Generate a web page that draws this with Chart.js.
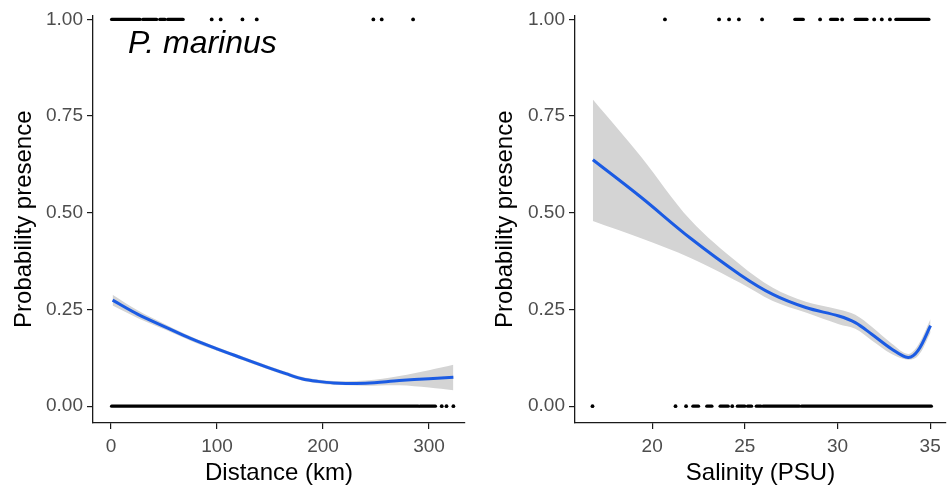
<!DOCTYPE html>
<html lang="en">
<head>
    <meta charset="UTF-8">
    <title>P. marinus presence</title>
    <script src="https://cdn.jsdelivr.net/npm/chart.js"></script>
    <style>
        * {
            margin: 0;
            padding: 0;
            box-sizing: border-box;
        }
        body {
            background-color: #fff;
            width: 950px;
            height: 494px;
            position: relative;
            overflow: hidden;
        }
        .panel {
            position: absolute;
            top: 0;
            width: 475px;
            height: 494px;
        }
        #left { left: 0; }
        #right { left: 475px; }
    </style>
</head>
<body>
    <div class="panel" id="left"><canvas id="distance-chart" width="475" height="494"></canvas></div>
    <div class="panel" id="right"><canvas id="salinity-chart" width="475" height="494"></canvas></div>
    <script>
        // shared y ticks
        var yTicks = [0, 0.25, 0.5, 0.75, 1];

        // distance panel
        var distTicks = [0, 100, 200, 300];
        var distX   = [1.5, 25, 52.5, 75, 100, 125, 147, 165, 180, 195, 210, 240, 272, 300, 323];
        var distFit = [0.274, 0.238, 0.203, 0.175, 0.148, 0.123, 0.101, 0.084, 0.071, 0.064, 0.060, 0.059, 0.066, 0.071, 0.075];
        var distLo  = [0.260, 0.228, 0.196, 0.169, 0.143, 0.118, 0.096, 0.079, 0.066, 0.059, 0.055, 0.053, 0.054, 0.048, 0.041];
        var distHi  = [0.288, 0.248, 0.210, 0.181, 0.153, 0.128, 0.106, 0.089, 0.076, 0.069, 0.065, 0.066, 0.078, 0.093, 0.107];
        // observed presences (1) and absences (0): dense runs and single points
        var distPresRuns = [[0.6, 27.4], [30, 43], [46, 51], [53.5, 68]];
        var distPresDots = [95, 103.5, 124, 137.5, 247.5, 255.4, 285];
        var distAbsRuns  = [[0.6, 290], [291.5, 306]];
        var distAbsDots  = [312, 316.5, 323];

        // salinity panel
        var salTicks = [20, 25, 30, 35];
        var salX   = [16.8, 19.4, 22.07, 24.74, 26.51, 28.29, 30.07, 30.96, 31.85, 32.92, 33.81, 34.35, 35.02];
        var salFit = [0.637, 0.540, 0.434, 0.340, 0.289, 0.255, 0.233, 0.216, 0.186, 0.148, 0.126, 0.144, 0.208];
        var salLo  = [0.479, 0.434, 0.383, 0.319, 0.272, 0.242, 0.212, 0.200, 0.170, 0.135, 0.120, 0.130, 0.190];
        var salHi  = [0.793, 0.645, 0.481, 0.366, 0.306, 0.270, 0.250, 0.236, 0.205, 0.162, 0.135, 0.158, 0.225];
        var salPresRuns = [[27.7, 28.15], [29.63, 30.0], [30.96, 31.59], [33.15, 34.93]];
        var salPresDots = [20.69, 23.61, 24.15, 24.68, 25.93, 29.06, 30.25, 31.98, 32.39, 32.83];
        var salAbsRuns  = [[22.2, 22.5], [22.95, 23.22], [23.67, 24.1], [24.6, 25.0], [25.15, 25.36], [25.62, 25.87], [25.98, 27.94], [28.06, 35.06]];
        var salAbsDots  = [16.78, 21.26, 21.83, 24.32];

        Chart.defaults.font.family = "'Liberation Sans', Arial, sans-serif";

        function pts(xs, ys) {
            return xs.map(function (x, i) { return { x: x, y: ys[i] }; });
        }

        function rugSets(runs, dots, y) {
            var sets = runs.map(function (r) {
                return {
                    data: [{ x: r[0], y: y }, { x: r[1], y: y }],
                    showLine: true, borderColor: '#000', borderWidth: 3.4,
                    borderCapStyle: 'round', pointRadius: 0
                };
            });
            sets.push({
                data: dots.map(function (x) { return { x: x, y: y }; }),
                showLine: false, pointRadius: 1.9, pointBackgroundColor: '#000',
                pointBorderWidth: 0
            });
            return sets;
        }

        function buildChart(id, o) {
            var datasets = [{
                data: pts(o.x, o.fit),
                showLine: true, borderColor: '#1b5be3', borderWidth: 3,
                tension: 0.35, pointRadius: 0
            }];
            datasets = datasets
                .concat(rugSets(o.presRuns, o.presDots, 1))
                .concat(rugSets(o.absRuns, o.absDots, 0));
            datasets.push({
                data: pts(o.x, o.lo),
                showLine: true, borderWidth: 0, pointRadius: 0, tension: 0.35
            });
            datasets.push({
                data: pts(o.x, o.hi),
                showLine: true, borderWidth: 0, pointRadius: 0, tension: 0.35,
                fill: '-1', backgroundColor: '#d4d4d4'
            });

            return new Chart(document.getElementById(id), {
                type: 'scatter',
                data: { datasets: datasets },
                options: {
                    responsive: false,
                    animation: false,
                    devicePixelRatio: 1,
                    layout: { padding: { top: 12, right: o.padRight, left: 0, bottom: 0 } },
                    plugins: { legend: { display: false }, tooltip: { enabled: false } },
                    scales: {
                        x: {
                            type: 'linear', min: o.xMin, max: o.xMax,
                            afterBuildTicks: function (s) { s.ticks = o.xTicks.map(function (v) { return { value: v }; }); },
                            afterFit: function (s) { s.height = 71; },
                            border: { display: true, color: '#1a1a1a', width: 1.3 },
                            grid: { drawOnChartArea: false, drawTicks: true, tickLength: 6, color: '#1a1a1a', lineWidth: 1.2 },
                            ticks: { color: '#4d4d4d', font: { size: 19 }, padding: 6, maxRotation: 0, autoSkip: false },
                            title: { display: true, text: o.xTitle, color: '#000', font: { size: 24 }, padding: { top: 0, bottom: 6 } }
                        },
                        y: {
                            type: 'linear', min: -0.0436, max: 1.0103,
                            afterBuildTicks: function (s) { s.ticks = yTicks.map(function (v) { return { value: v }; }); },
                            afterFit: function (s) { s.width = o.yWidth; },
                            border: { display: true, color: '#1a1a1a', width: 1.3 },
                            grid: { drawOnChartArea: false, drawTicks: true, tickLength: 6, color: '#1a1a1a', lineWidth: 1.2 },
                            ticks: { color: '#4d4d4d', font: { size: 19 }, padding: 4, callback: function (v) { return v.toFixed(2); } },
                            title: { display: true, text: 'Probability presence', color: '#000', font: { size: 24 }, padding: { top: o.yTitlePad, bottom: 0 } }
                        }
                    }
                },
                plugins: o.plugins || []
            });
        }

        var speciesLabel = {
            id: 'speciesLabel',
            afterDraw: function (chart) {
                var ctx = chart.ctx;
                ctx.save();
                ctx.font = "italic 32px 'Liberation Sans', Arial, sans-serif";
                ctx.fillStyle = '#000';
                ctx.textBaseline = 'alphabetic';
                ctx.fillText('P. marinus', 128, 53);
                ctx.restore();
            }
        };

        buildChart('distance-chart', {
            x: distX, fit: distFit, lo: distLo, hi: distHi,
            presRuns: distPresRuns, presDots: distPresDots,
            absRuns: distAbsRuns, absDots: distAbsDots,
            xTicks: distTicks, xMin: -16.98, xMax: 333.96,
            xTitle: 'Distance (km)', yWidth: 93, yTitlePad: 9.6, padRight: 10,
            plugins: [speciesLabel]
        });

        buildChart('salinity-chart', {
            x: salX, fit: salFit, lo: salLo, hi: salHi,
            presRuns: salPresRuns, presDots: salPresDots,
            absRuns: salAbsRuns, absDots: salAbsDots,
            xTicks: salTicks, xMin: 15.836, xMax: 35.854,
            xTitle: 'Salinity (PSU)', yWidth: 100, yTitlePad: 15.6, padRight: 0
        });
    </script>
</body>
</html>
